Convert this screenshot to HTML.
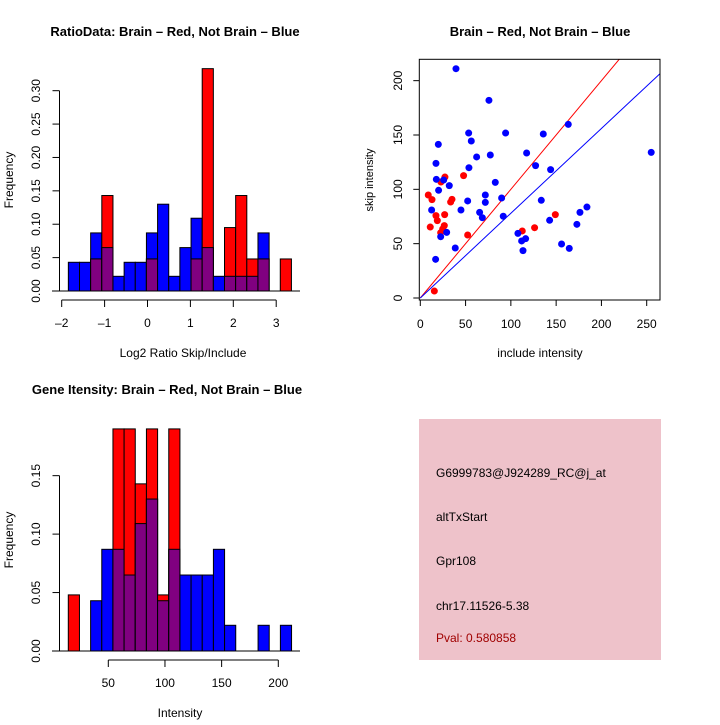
<!DOCTYPE html>
<html><head><meta charset="utf-8"><style>
html,body{margin:0;padding:0;background:#fff}
svg text{font-family:"Liberation Sans","DejaVu Sans",sans-serif}
</style></head><body>
<svg id="s" width="720" height="720" viewBox="0 0 720 720" xmlns="http://www.w3.org/2000/svg">
<rect width="720" height="720" fill="#fff"/>
<text x="175" y="36" font-size="13" font-weight="bold" text-anchor="middle">RatioData: Brain – Red, Not Brain – Blue</text>
<text x="540" y="36" font-size="13" font-weight="bold" text-anchor="middle">Brain – Red, Not Brain – Blue</text>
<text x="167" y="394" font-size="13" font-weight="bold" text-anchor="middle">Gene Itensity: Brain – Red, Not Brain – Blue</text>
<text x="183" y="357" font-size="12" text-anchor="middle">Log2 Ratio Skip/Include</text>
<text x="13" y="180" font-size="12" text-anchor="middle" transform="rotate(-90 13 180)">Frequency</text>
<text x="13" y="540" font-size="12" text-anchor="middle" transform="rotate(-90 13 540)">Frequency</text>
<text x="180" y="717" font-size="12" text-anchor="middle">Intensity</text>
<text x="540" y="357" font-size="12" text-anchor="middle">include intensity</text>
<text x="373" y="180" font-size="11" text-anchor="middle" transform="rotate(-90 373 180)">skip intensity</text>
<g>
<rect x="419" y="419" width="242" height="241" fill="#eec2ca"/>
<text x="436" y="477" font-size="12">G6999783@J924289_RC@j_at</text>
<text x="436" y="521" font-size="12">altTxStart</text>
<text x="436" y="565" font-size="12">Gpr108</text>
<text x="436" y="610" font-size="12">chr17.11526-5.38</text>
<text x="436" y="642" font-size="12" fill="#a00000">Pval: 0.580858</text>
</g>
</svg>
<script>
// Ratio histogram
const ratioBlue=[0.043,0.043,0.087,0.065,0.022,0.043,0.043,0.087,0.13,0.022,0.065,0.109,0.065,0.022,0.022,0.022,0.022,0.087,0,0];
const ratioRed=[0,0,0.048,0.143,0,0,0,0.048,0,0,0,0.048,0.333,0,0.095,0.143,0.048,0.048,0,0.048];
const ratioStart=-1.845, ratioWidth=0.26;
const ratioXTicks=[-2,-1,0,1,2,3];
const ratioYTicks=["0.00","0.05","0.10","0.15","0.20","0.25","0.30"];
// Intensity histogram
const intBlue=[0,0,0.043,0.087,0.087,0.065,0.109,0.13,0.043,0.087,0.065,0.065,0.065,0.087,0.022,0,0,0.022,0,0.022];
const intRed=[0.048,0,0,0,0.19,0.19,0.143,0.19,0.048,0.19,0,0,0,0,0,0,0,0,0,0];
const intStart=14.7, intWidth=9.85;
const intXTicks=[50,100,150,200];
const intYTicks=["0.00","0.05","0.10","0.15"];
// Scatter
const blueX=[39.4,75.8,163.4,53.4,94.2,135.8,19.9,56.3,62.2,77.3,117.4,255,17.3,53.7,127.3,143.9,17.7,25.8,32,20.2,82.8,71.8,71.8,89.8,52.3,133.6,12.5,44.9,65.5,68.5,91.6,184,176.3,172.9,142.8,29.1,22.5,107.8,111.9,116.3,113.4,156,164.5,38.6,16.9];
const blueY=[211,181.9,159.8,151.8,151.8,150.9,141.4,144.5,129.8,131.6,133.4,134,123.9,119.9,121.8,118.1,109.2,108.6,103.4,99.1,106.4,94.8,88,92,89.3,89.9,81,81,78.8,73.9,75.2,83.7,78.8,67.8,71.5,60.4,56.4,59.5,52.5,54.6,43.6,49.7,45.7,46,35.6];
const redX=[8.8,12.9,27.2,22.8,47.8,35,33.5,17.3,18.8,26.9,11,26.5,24.7,22.5,52.3,15.5,112.6,126.2,149.1];
const redY=[94.8,90.5,111.3,106.7,112.6,90.8,88.3,75.8,71.2,76.7,65.3,66.6,63.5,60.1,58,6.4,61.7,64.7,76.7];
const redSlope=1.0, blueSlope=0.78;
const scXTicks=[0,50,100,150,200,250];
const scYTicks=[0,50,100,150,200];

const NS="http://www.w3.org/2000/svg", svg=document.getElementById('s');
function mk(t,a,p){const e=document.createElementNS(NS,t);for(const k in a)e.setAttribute(k,a[k]);(p||svg).appendChild(e);return e;}

function hist(opt){
  const g=mk('g',{});
  
  
  const xs=v=>opt.x0+(v-opt.v0)*opt.kx, ys=v=>opt.y0-v*opt.ky;
  for(let i=0;i<opt.blue.length;i++){
    const a=opt.start+i*opt.w,b=a+opt.w,x=xs(a),wd=xs(b)-xs(a);
    const draw=(h,c,n)=>{if(h<=0)return;const r=mk('rect',{x:x,y:ys(h),width:wd,height:ys(0)-ys(h),fill:c,stroke:'#000','stroke-width':1},g);
      };
    draw(opt.blue[i],'#0000ff','bar-blue-'+i);
    draw(opt.red[i],'#ff0000','bar-red-'+i);
    if(opt.blue[i]>0&&opt.red[i]>0)draw(Math.min(opt.blue[i],opt.red[i]),'#800080','bar-overlap-'+i);
  }
  const ya=mk('g',{});
  const yv=opt.yt.map(Number);
  mk('line',{x1:opt.yx,x2:opt.yx,y1:ys(yv[0]),y2:ys(yv[yv.length-1]),stroke:'#000'},ya);
  opt.yt.forEach(t=>{const y=ys(+t);mk('line',{x1:opt.yx-7,x2:opt.yx,y1:y,y2:y,stroke:'#000'},ya);
    const tx=mk('text',{x:40,y:y,'font-size':12,'text-anchor':'middle',transform:`rotate(-90 40 ${y})`},ya);tx.textContent=t;});
  const xa=mk('g',{});
  mk('line',{x1:xs(opt.xt[0]),x2:xs(opt.xt[opt.xt.length-1]),y1:opt.xy,y2:opt.xy,stroke:'#000'},xa);
  opt.xt.forEach(t=>{const x=xs(t);mk('line',{x1:x,x2:x,y1:opt.xy,y2:opt.xy+7,stroke:'#000'},xa);
    const tx=mk('text',{x:x,y:opt.xy+27,'font-size':12,'text-anchor':'middle'},xa);tx.textContent=t<0?'–'+(-t):t;});
  mk('line',{x1:opt.bx1,x2:opt.bx2,y1:opt.y0,y2:opt.y0,stroke:'#000'},g);
}
hist({name:'ratio-histogram',blue:ratioBlue,red:ratioRed,start:ratioStart,w:ratioWidth,v0:-2,x0:61.7,kx:42.9,y0:291,ky:667.7,yt:ratioYTicks,xt:ratioXTicks,yx:59.5,xy:300,bx1:52,bx2:300});
hist({name:'intensity-histogram',blue:intBlue,red:intRed,start:intStart,w:intWidth,v0:50,x0:108.3,kx:1.1333,y0:651,ky:1168.9,yt:intYTicks,xt:intXTicks,yx:59.5,xy:660,bx1:52,bx2:300});

const L=419.3,R=660,T=59.3,B=300;
const sx=v=>420.3+v*0.9056, sy=v=>298-v*1.0867;
const sg=mk('g',{});
mk('clipPath',{id:'cp'},sg);mk('rect',{x:L,y:T,width:R-L,height:B-T},document.getElementById('cp'));
const ln=mk('g',{'clip-path':'url(#cp)'},sg);
const rl=mk('line',{x1:sx(0),y1:sy(0),x2:sx(300),y2:sy(300*redSlope),stroke:'#ff0000','stroke-width':1},ln);

const bl=mk('line',{x1:sx(0),y1:sy(0),x2:sx(300),y2:sy(300*blueSlope),stroke:'#0000ff','stroke-width':1},ln);

redX.forEach((v,i)=>{const c=mk('circle',{cx:sx(v),cy:sy(redY[i]),r:3.5,fill:'#ff0000'},sg);
  });
blueX.forEach((v,i)=>{const c=mk('circle',{cx:sx(v),cy:sy(blueY[i]),r:3.5,fill:'#0000ff'},sg);
  });
mk('rect',{x:L,y:T,width:R-L,height:B-T,fill:'none',stroke:'#000'},sg);
const sxa=mk('g',{});
scXTicks.forEach(t=>{const x=sx(t);mk('line',{x1:x,x2:x,y1:B,y2:B+6,stroke:'#000'},sxa);
  const tx=mk('text',{x:x,y:B+28,'font-size':12,'text-anchor':'middle'},sxa);tx.textContent=t;});
const sya=mk('g',{});
scYTicks.forEach(t=>{const y=sy(t);mk('line',{x1:L-6,x2:L,y1:y,y2:y,stroke:'#000'},sya);
  const tx=mk('text',{x:402,y:y,'font-size':12,'text-anchor':'middle',transform:`rotate(-90 402 ${y})`},sya);tx.textContent=t;});
</script>
</body></html>
